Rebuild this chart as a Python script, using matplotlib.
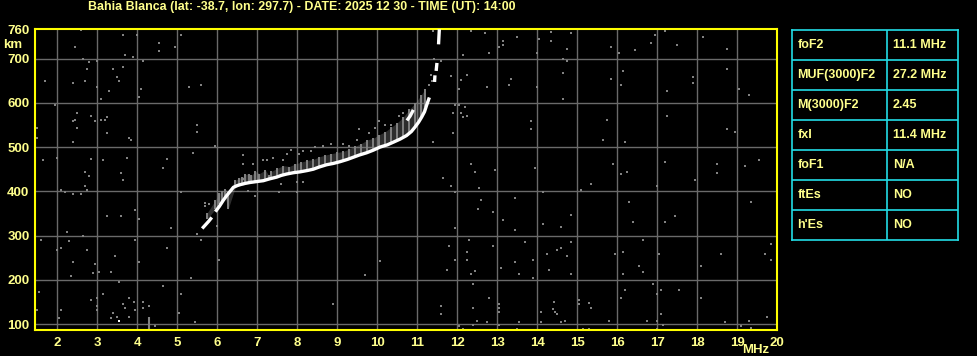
import numpy as np
import matplotlib
matplotlib.use("Agg")
import matplotlib.pyplot as plt

# ============================================================
# DATA
# ============================================================

TITLE = "Bahia Blanca (lat: -38.7, lon: 297.7) - DATE: 2025 12 30 - TIME (UT): 14:00"

X_TICKS = list(range(2, 21))
Y_TICKS = [100, 200, 300, 400, 500, 600, 700]

# main O-trace (white), split into the drawn pieces
TRACE_F = [
    [5.62, 5.70, 5.78, 5.86],
    [5.95, 6.05, 6.15, 6.23, 6.32, 6.40, 6.50, 6.57, 6.70, 6.82, 6.98, 7.15, 7.30, 7.48,
     7.60, 7.73, 7.90, 8.07, 8.25, 8.40, 8.55, 8.73, 8.90, 9.07, 9.25, 9.40, 9.55, 9.73,
     9.90, 10.07, 10.25, 10.40, 10.57, 10.73, 10.85, 10.94, 11.03, 11.11, 11.18, 11.23, 11.30],
    [11.43, 11.44],
    [11.47, 11.49],
    [11.53, 11.54, 11.55],
    [10.74, 10.82, 10.90],
]
TRACE_H = [
    [316, 324, 332, 341],
    [354, 366, 380, 390, 400, 409, 413, 415, 418, 420, 422, 424, 428, 432,
     436, 439, 442, 444, 447, 450, 455, 460, 463, 467, 472, 477, 482, 487,
     493, 500, 505, 511, 518, 526, 535, 545, 556, 568, 580, 594, 612],
    [647, 662],
    [672, 690],
    [732, 750, 766],
    [560, 570, 584],
]

# grey spread echo streaks: frequency, bottom, top (km)
SPREAD_F = [5.75, 5.95, 6.05, 6.12, 6.20, 6.27, 6.45, 6.55, 6.62, 6.70, 6.78, 6.85, 6.95,
            7.05, 7.20, 7.28, 7.35, 7.50, 7.65, 7.80, 7.95, 8.10, 8.25, 8.40, 8.55, 8.70,
            8.85, 9.00, 9.15, 9.30, 9.45, 9.60, 9.75, 9.90, 10.05, 10.20, 10.35, 10.50,
            10.65, 10.80, 10.95, 11.10, 11.20]
SPREAD_LO = [338, 360, 372, 378, 385, 360, 410, 413, 414, 416, 418, 419, 420,
             422, 425, 426, 428, 432, 436, 440, 442, 445, 447, 450, 455, 459,
             462, 465, 469, 474, 478, 483, 488, 494, 500, 505, 510, 516,
             522, 530, 545, 565, 590]
SPREAD_HI = [352, 380, 396, 400, 405, 398, 425, 430, 432, 438, 440, 436, 445,
             440, 448, 436, 445, 452, 458, 456, 462, 466, 470, 472, 478, 482,
             485, 488, 490, 496, 502, 508, 516, 520, 528, 535, 545, 555,
             568, 585, 600, 618, 632]

# scattered grey points around the trace
HALO_F = [6.63, 6.63, 6.88, 7.13, 7.23, 7.38, 7.63, 7.73, 7.83, 8.03, 8.13, 8.33, 8.43,
          8.63, 8.83, 9.13, 9.28, 9.48, 9.53, 9.78, 9.93, 10.03, 10.18, 10.33, 10.53, 10.63,
          6.94, 6.65, 6.77, 11.29, 11.36, 11.41, 11.33]
HALO_H = [481, 462, 462, 471, 471, 476, 471, 485, 494, 485, 490, 490, 499,
          503, 508, 508, 503, 517, 540, 531, 544, 558, 549, 549, 571, 576,
          390, 428, 401, 640, 650, 700, 662]

# background noise points (grey)
NOISE_F = [
    2.58, 2.43, 3.63, 3.98, 4.53, 4.53, 5.08, 4.93, 2.63, 2.78, 2.98, 3.68, 3.88, 4.13,
    2.73, 3.38, 3.63, 1.68, 2.38, 2.68, 3.48, 3.53, 2.98, 3.28, 4.08, 4.03, 3.08, 5.28,
    5.58, 1.93, 2.48, 2.83, 2.38, 2.43, 2.93, 3.08, 3.18, 3.23, 1.48, 2.48, 5.48, 5.48,
    3.23, 3.78, 3.83, 1.48, 2.38, 5.93, 5.38, 1.63, 1.98, 2.83, 3.13, 3.73, 4.73, 4.63,
    2.68, 2.78, 3.58,
    2.68, 3.63, 2.08, 2.18, 2.38, 2.58, 2.73, 5.08, 3.23, 3.58, 3.93, 4.03, 4.83, 2.23,
    1.58, 2.28, 2.63, 3.93, 4.73, 2.08, 1.98, 2.73, 3.43, 2.38, 2.93, 2.88, 3.03, 3.33,
    4.03, 6.03, 2.33, 5.33, 3.53, 4.63, 1.53, 3.13, 5.08, 2.83, 2.98, 2.98, 3.78, 3.91,
    4.13, 3.63, 3.68, 4.13, 4.28, 2.08, 1.48, 3.38, 3.93, 2.98, 3.48, 3.33, 3.78, 5.03,
    2.03, 4.43, 5.43, 8.88, 9.68, 10.06, 7.53, 7.98, 6.93, 8.13, 7.98, 7.58, 5.68, 5.78,
    5.68, 5.98, 5.58, 5.48,
    11.39, 12.34, 12.69, 13.49, 13.14, 13.14, 13.04, 14.04, 14.34, 14.34, 14.84, 14.74,
    13.99, 12.79, 12.14, 15.84, 16.04, 16.44, 16.84, 16.94, 17.19, 17.49, 18.14, 18.74,
    19.99, 14.64, 14.74, 11.59, 11.84, 12.09, 12.24, 13.34, 13.29, 12.74, 12.04, 13.99,
    14.64, 15.84, 16.09, 16.14, 17.24, 17.89, 17.89, 18.74, 19.04, 19.29, 14.64, 11.94,
    12.04, 12.19, 11.89, 12.09, 12.14, 12.24, 13.84, 13.84, 15.74, 17.24, 18.74, 18.94,
    11.89, 11.39, 15.64, 16.19, 12.34, 12.44, 12.94, 13.94, 11.64, 15.89, 16.09, 16.24,
    17.19, 18.49, 18.49, 19.19, 19.54,
    11.84, 11.94, 12.54, 12.59, 12.51, 12.89, 13.44, 13.14, 13.44, 11.94, 14.14, 14.14,
    14.59, 14.84, 15.09, 15.34, 16.29, 16.39, 16.99, 17.19, 17.44, 17.94, 19.34, 11.79,
    12.29, 12.24, 12.24, 11.94, 11.74, 12.44, 12.34, 12.89, 13.09, 13.44, 13.54, 13.69,
    13.89, 13.89, 14.24, 14.29, 14.49, 14.59, 14.74, 14.84, 14.84, 15.94, 16.14, 16.14,
    16.54, 16.64, 16.64, 17.04, 18.09, 18.59, 19.69, 19.84, 19.84, 19.99, 12.39, 12.79,
    12.39, 11.59, 11.59, 12.49, 12.39, 13.04, 13.04, 13.04, 12.74, 12.04, 12.14, 13.04,
    13.54, 13.49, 14.09, 14.09, 14.41, 14.39, 14.44, 14.49, 14.69, 14.59, 15.04, 15.04,
    15.29, 15.34, 15.14, 15.29, 15.79, 16.09, 16.19, 16.89, 16.99, 17.09, 17.54, 17.09,
    16.74, 16.99, 17.14, 16.99, 18.09, 18.69, 19.29, 19.09, 19.34, 19.74,
]
NOISE_H = [
    764, 726, 753, 753, 735, 717, 753, 726, 699, 692, 694, 708, 703, 694,
    676, 676, 681, 649, 644, 649, 658, 649, 635, 626, 631, 612, 608, 635,
    640, 594, 576, 571, 558, 562, 558, 562, 562, 567, 544, 544, 549, 535,
    531, 521, 517, 521, 512, 503, 487, 471, 476, 474, 471, 476, 474, 453,
    444, 435, 442,
    413, 426, 404, 399, 395, 395, 404, 399, 345, 345, 358, 338, 317, 308,
    290, 288, 299, 290, 272, 272, 267, 267, 254, 240, 236, 215, 217, 217,
    240, 245, 208, 204, 195, 186, 172, 167, 167, 154, 158, 140, 158, 149,
    149, 145, 136, 136, 140, 131, 131, 126, 131, 131, 117, 113, 117, 126,
    113, 95, 104, 145, 211, 242, 399, 399, 390, 422, 422, 417, 374, 372,
    367, 322, 290, 304,
    762, 762, 758, 749, 740, 731, 726, 744, 760, 740, 758, 721,
    712, 712, 708, 726, 712, 719, 735, 753, 762, 731, 749, 721,
    712, 699, 694, 694, 660, 651, 662, 653, 640, 635, 631, 635,
    667, 653, 640, 672, 626, 658, 644, 676, 631, 617, 608, 594,
    594, 590, 576, 576, 567, 571, 558, 540, 562, 571, 540, 535,
    531, 512, 517, 512, 462, 444, 449, 453, 431, 462, 440, 444,
    467, 462, 442, 458, 471,
    413, 399, 408, 381, 361, 354, 386, 336, 313, 317, 399, 326,
    320, 347, 404, 417, 376, 331, 413, 331, 345, 426, 376, 276,
    290, 263, 245, 245, 222, 220, 213, 276, 226, 240, 213, 286,
    245, 204, 258, 222, 267, 272, 254, 286, 213, 258, 263, 213,
    231, 290, 217, 258, 231, 258, 258, 281, 245, 231, 190, 158,
    136, 140, 122, 108, 99, 145, 136, 127, 104, 95, 90, 99,
    104, 90, 127, 104, 151, 133, 127, 122, 108, 104, 154, 145,
    147, 136, 90, 90, 108, 158, 176, 190, 167, 176, 176, 122,
    108, 108, 99, 90, 158, 104, 108, 95, 92, 117,
]

WHITE_DOT = (3.53, 108)
SPIKE = (4.28, 87, 115)

TABLE_NAMES = ["foF2", "MUF(3000)F2", "M(3000)F2", "fxI", "foF1", "ftEs", "h'Es"]
TABLE_VALUES = ["11.1 MHz", "27.2 MHz", "2.45", "11.4 MHz", "N/A", "NO", "NO"]

# ============================================================
# STYLE
# ============================================================

W, H = 978, 356
TXT = "#ffff8c"
YEL = "#ffff00"
GRID = "#6a6a6a"
DOT = "#828282"
CYAN = "#22dde6"

plt.rcParams["font.family"] = ["Liberation Sans Narrow", "Liberation Sans", "DejaVu Sans"]
plt.rcParams["font.weight"] = "bold"

fig = plt.figure(figsize=(W / 100, H / 100), dpi=100, facecolor="black")

# ============================================================
# IONOGRAM
# ============================================================

x0, x1, y0, y1 = 35, 777.3, 29.3, 330.3
ax = fig.add_axes([x0 / W, 1 - y1 / H, (x1 - x0) / W, (y1 - y0) / H], facecolor="black")
ax.set_xlim(1.44, 20)
ax.set_ylim(86, 766)

for f in X_TICKS[:-1]:
    ax.axvline(f, color=GRID, lw=1.0, zorder=1)
for h in Y_TICKS:
    ax.axhline(h, color=GRID, lw=1.0, zorder=1)

# spread band: faint fill plus denser streaks
ax.fill_between(SPREAD_F, SPREAD_LO, SPREAD_HI, color=DOT, alpha=0.35, lw=0, zorder=2)
ax.vlines(SPREAD_F, SPREAD_LO, SPREAD_HI, color=DOT, lw=1.4, zorder=2)
ax.plot(HALO_F, HALO_H, "s", color=DOT, ms=1.6, mew=0, zorder=2)
ax.plot(NOISE_F, NOISE_H, "s", color=DOT, ms=1.6, mew=0, zorder=2)
ax.vlines([SPIKE[0]], SPIKE[1], SPIKE[2], color=DOT, lw=1.5, zorder=2)
ax.plot([WHITE_DOT[0]], [WHITE_DOT[1]], "s", color="white", ms=1.8, mew=0, zorder=3)

for fs, hs in zip(TRACE_F, TRACE_H):
    ax.plot(fs, hs, color="white", lw=2.4, solid_capstyle="butt", zorder=3)

for s in ax.spines.values():
    s.set_color(YEL)
    s.set_linewidth(1.5)

ax.set_xticks(X_TICKS)
ax.set_xticklabels([str(v) for v in X_TICKS])
ax.set_yticks(Y_TICKS + [766])
ax.set_yticklabels([str(v) for v in Y_TICKS] + ["760"])
ax.tick_params(length=0, colors=TXT, labelsize=9.5, pad=4)
ax.tick_params(axis="x", pad=5)
for lab in ax.get_xticklabels() + ax.get_yticklabels():
    lab.set_fontweight("bold")

fig.text(13 / W, 1 - 45 / H, "km", color=TXT, fontsize=9.5, fontweight="bold",
         ha="center", va="center")
fig.text(756 / W, 1 - 350 / H, "MHz", color=TXT, fontsize=9.5, fontweight="bold",
         ha="center", va="center")
fig.text(88 / W, 1 - 7 / H, TITLE, color=TXT, fontsize=8.9, fontweight="bold",
         ha="left", va="center")

# ============================================================
# PARAMETER TABLE
# ============================================================

tx0, tx1, ty0, ty1 = 792, 957.7, 30.3, 240
tax = fig.add_axes([tx0 / W, 1 - ty1 / H, (tx1 - tx0) / W, (ty1 - ty0) / H], facecolor="black")
n = len(TABLE_NAMES)
tax.set_xlim(0, tx1 - tx0)
tax.set_ylim(n, 0)
tax.set_xticks([])
tax.set_yticks([])
for s in tax.spines.values():
    s.set_color(CYAN)
    s.set_linewidth(1.2)
split = 887.3 - tx0
tax.axvline(split, color=CYAN, lw=1.2)
for i in range(1, n):
    tax.axhline(i, color=CYAN, lw=1.2)
for i, (name, val) in enumerate(zip(TABLE_NAMES, TABLE_VALUES)):
    tax.text(5.5, i + 0.5, name, color=TXT, fontsize=9, fontweight="bold", va="center", ha="left")
    tax.text(split + 5.5, i + 0.5, val, color=TXT, fontsize=9, fontweight="bold", va="center", ha="left")

fig.savefig("out.png", dpi=100, facecolor="black")
